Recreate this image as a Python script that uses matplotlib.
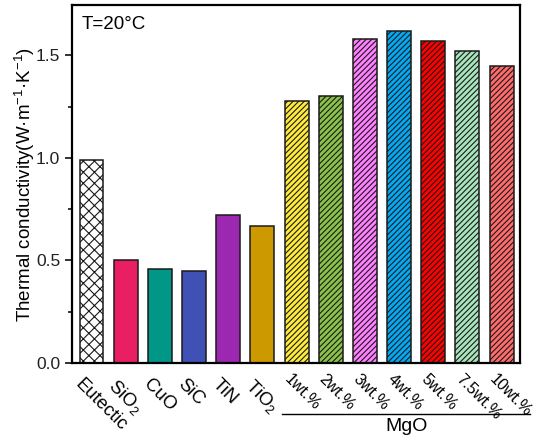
import matplotlib
matplotlib.use("Agg")
import matplotlib.pyplot as plt
import matplotlib.transforms as mtransforms
from matplotlib.ticker import MultipleLocator

plt.rcParams['font.family'] = ['Liberation Sans', 'DejaVu Sans']
plt.rcParams['mathtext.fontset'] = 'custom'
plt.rcParams['mathtext.rm'] = 'Liberation Sans'

categories = ['Eutectic', 'SiO$_2$', 'CuO', 'SiC', 'TiN', 'TiO$_2$',
              '1wt.%', '2wt.%', '3wt.%', '4wt.%', '5wt.%', '7.5wt.%', '10wt.%']
values = [0.99, 0.50, 0.46, 0.45, 0.72, 0.67,
          1.28, 1.30, 1.58, 1.62, 1.57, 1.52, 1.45]
colors = ['white', '#E91E63', '#009688', '#3F51B5', '#9C27B0', '#CC9900',
          '#FFEB3B', '#8BC34A', '#FF80FF', '#03A9F4', '#FF0000', '#A8E4BC', '#FF6B6B']
hatches = ['xxx', '', '', '', '', '',
           '//////', '//////', '//////', '//////', '//////', '//////', '//////']
n_main = 6

plt.rcParams['hatch.linewidth'] = 0.8

fig = plt.figure(figsize=(5.39, 4.43), dpi=100)
ax = fig.add_axes([0.1336, 0.1806, 0.8312, 0.8081])

x = list(range(len(values)))
for xi, v, c, h in zip(x, values, colors, hatches):
    ax.bar(xi, v, width=0.70, color=c, edgecolor='#1a1a1a', linewidth=1.1,
           hatch=h, zorder=2)

ax.set_xlim(-0.571, 12.54)
ax.set_ylim(0, 1.746)
ax.yaxis.set_major_locator(MultipleLocator(0.5))
ax.yaxis.set_minor_locator(MultipleLocator(0.25))
ax.yaxis.set_major_formatter(matplotlib.ticker.FormatStrFormatter('%.1f'))
ax.tick_params(axis='y', which='major', direction='out', length=5, width=1.3,
               labelsize=12.5, colors='#222222')
ax.tick_params(axis='y', which='minor', direction='out', length=3, width=1.1)
ax.tick_params(axis='x', which='both', length=0, labelbottom=False)
for s in ax.spines.values():
    s.set_linewidth(1.6)

ax.set_ylabel('Thermal conductivity(W·m$^{-1}$·K$^{-1}$)', fontsize=13.5, labelpad=-1)

trans = mtransforms.blended_transform_factory(ax.transData, ax.transAxes)
for xi, lab in zip(x, categories):
    if xi < n_main:
        ax.text(xi - 0.22, -0.035, lab, transform=trans, rotation=-45,
                rotation_mode='anchor', ha='left', va='top', fontsize=13.3)
    else:
        ax.text(xi - 0.12, -0.025, lab, transform=trans, rotation=-45,
                rotation_mode='anchor', ha='left', va='top', fontsize=11.5)

ax.plot([5.56, 12.83], [-0.142, -0.142], transform=trans, color='black',
        linewidth=1.0, clip_on=False)
ax.text(9.22, -0.177, 'MgO', transform=trans, ha='center', va='center', fontsize=14)

ax.text(0.022, 0.968, 'T=20°C', transform=ax.transAxes, ha='left', va='top', fontsize=13.5)

fig.savefig('out.png', dpi=100)
